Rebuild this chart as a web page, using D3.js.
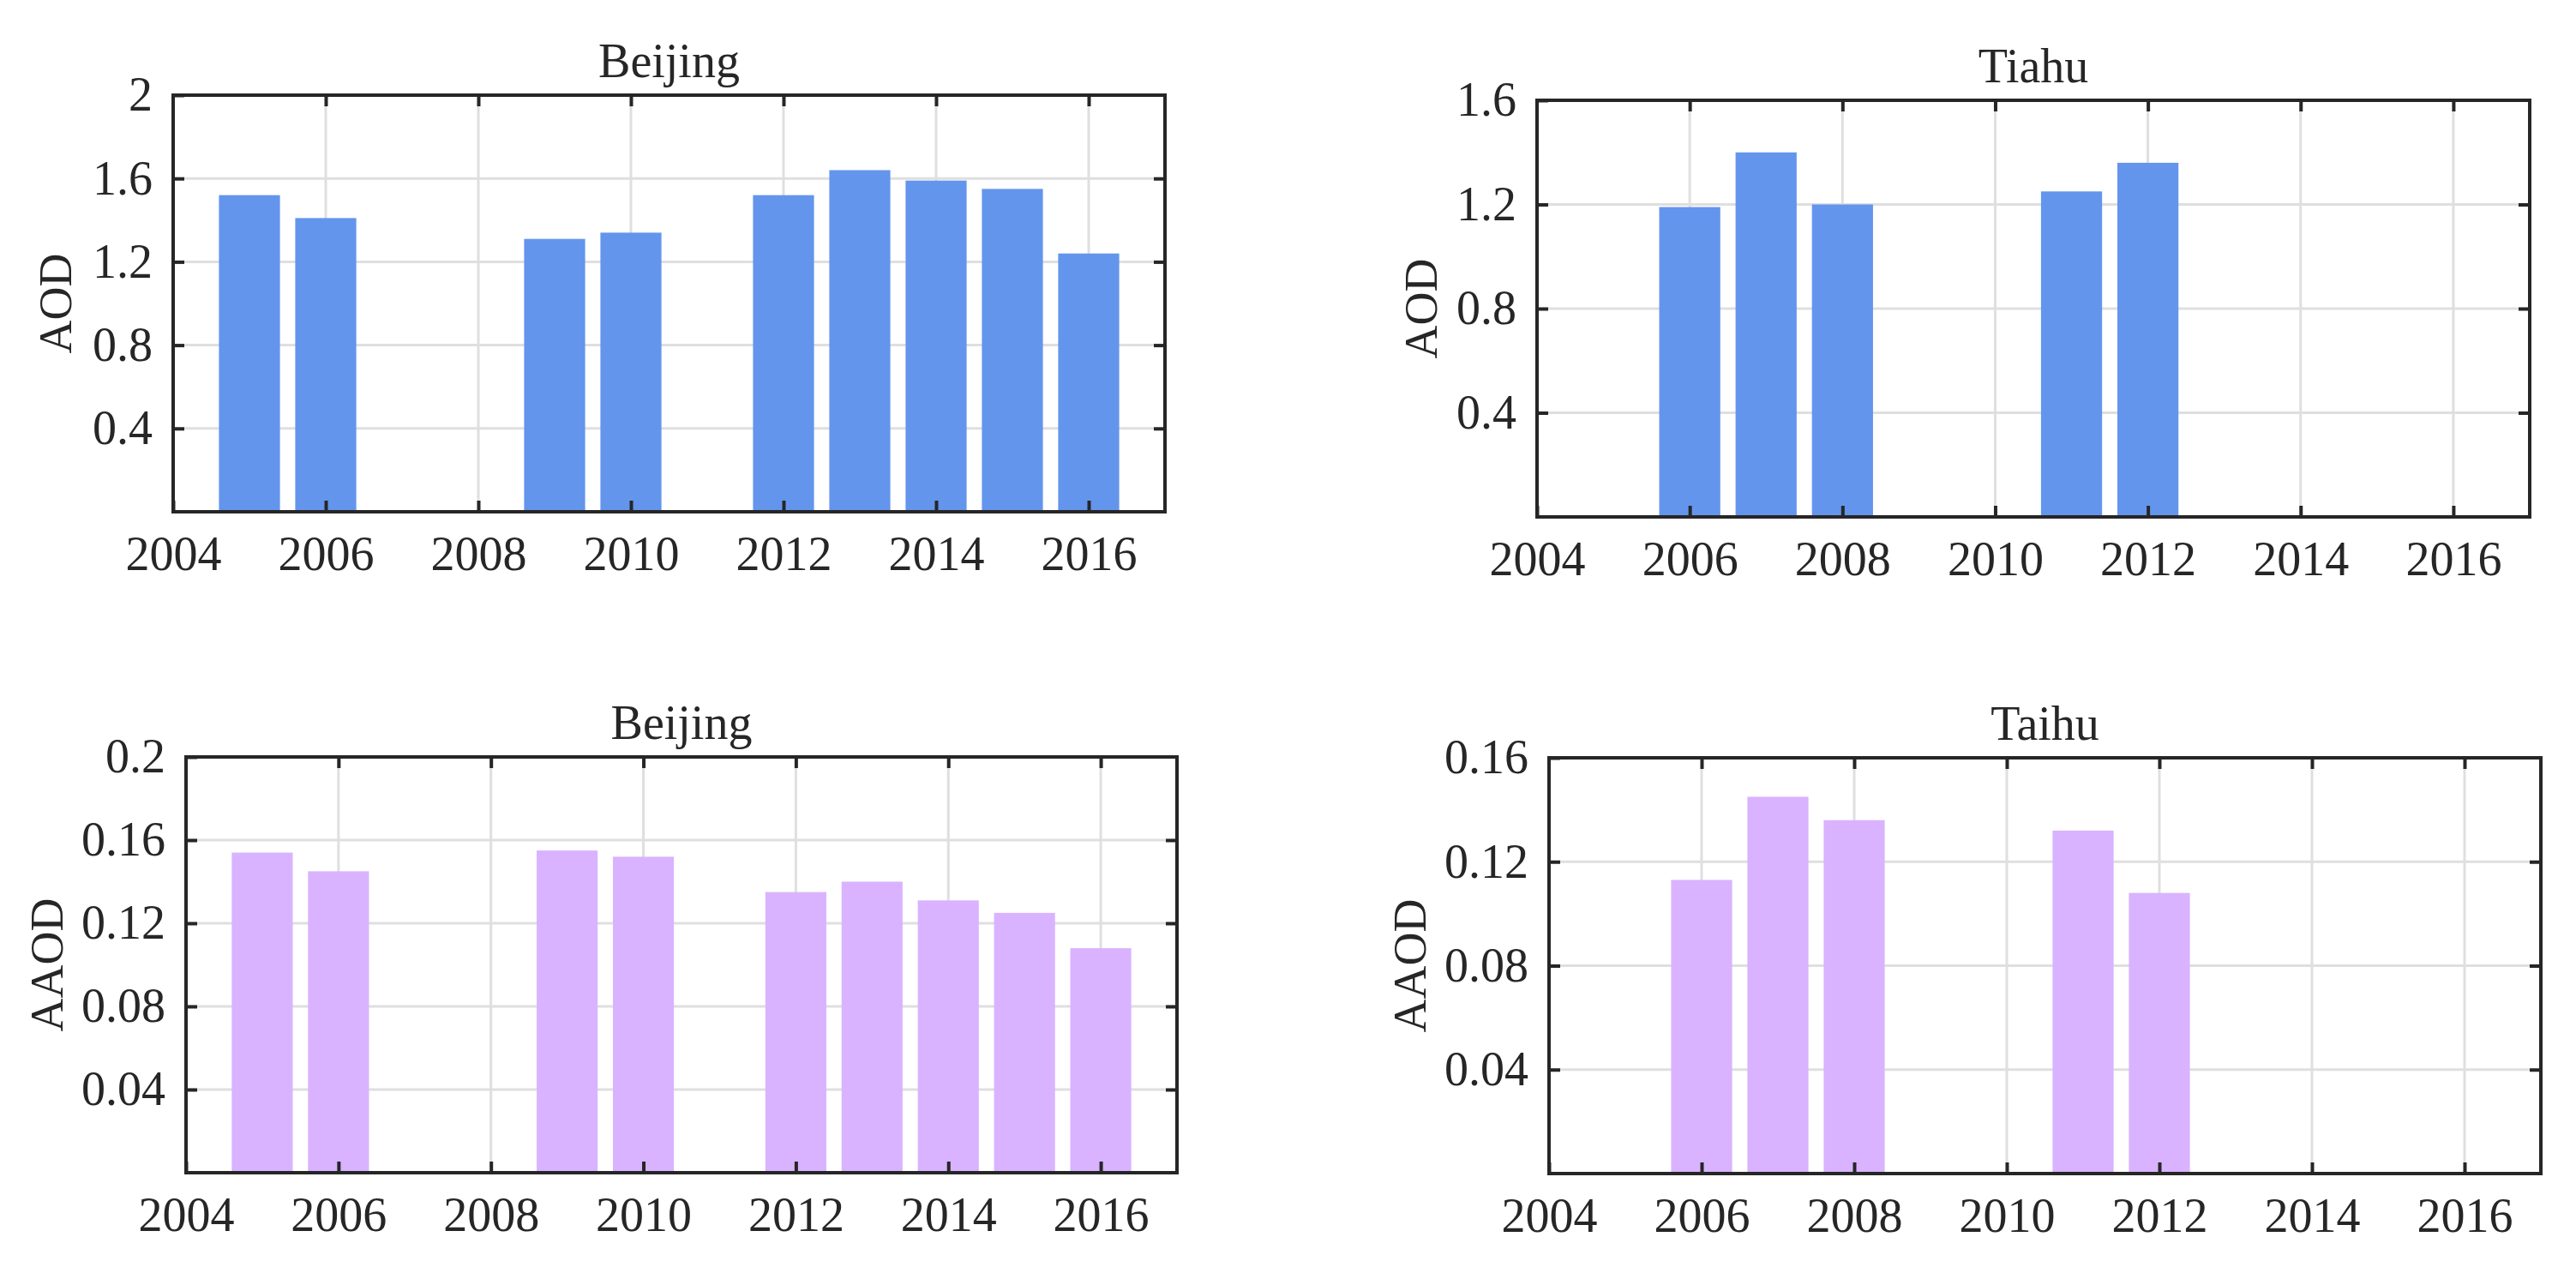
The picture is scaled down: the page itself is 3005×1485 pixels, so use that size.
<!DOCTYPE html>
<html>
<head>
<meta charset="utf-8">
<script src="https://cdn.jsdelivr.net/npm/d3@7/dist/d3.min.js"></script>
<style>
  html, body { margin: 0; padding: 0; background: #fff; }
  svg { display: block; }
  text { font-family: "Liberation Serif", "Times New Roman", serif; fill: #262626; }
</style>
</head>
<body>
<svg id="chart" width="3005" height="1485"></svg>
<script>
// ---- data ----
const yearsBeijing = [2005, 2006, 2009, 2010, 2012, 2013, 2014, 2015, 2016];
const aodBeijing   = [1.52, 1.41, 1.31, 1.34, 1.52, 1.64, 1.59, 1.55, 1.24];
const aaodBeijing  = [0.154, 0.145, 0.155, 0.152, 0.135, 0.140, 0.131, 0.125, 0.108];

const yearsTaihu = [2006, 2007, 2008, 2011, 2012];
const aodTaihu   = [1.19, 1.40, 1.20, 1.25, 1.36];
const aaodTaihu  = [0.113, 0.145, 0.136, 0.132, 0.108];

const xTicks = [2004, 2006, 2008, 2010, 2012, 2014, 2016];
const xDomain = [2004, 2017];
const yTicksAOD1  = [0.4, 0.8, 1.2, 1.6, 2];
const yTicksAOD2  = [0.4, 0.8, 1.2, 1.6];
const yTicksAAOD1 = [0.04, 0.08, 0.12, 0.16, 0.2];
const yTicksAAOD2 = [0.04, 0.08, 0.12, 0.16];

const titles = ["Beijing", "Tiahu", "Beijing", "Taihu"];
const yLabels = ["AOD", "AOD", "AAOD", "AAOD"];

const BLUE = "#6495ED";
const PURPLE = "#D9B3FF";

const panels = [
  { box: [202, 111, 1359, 597], years: yearsBeijing, vals: aodBeijing, ymax: 2, ticks: yTicksAOD1, fmt: d => String(d), title: titles[0], ylab: yLabels[0], labX: 83, color: BLUE },
  { box: [1793, 117, 2951, 603], years: yearsTaihu, vals: aodTaihu, ymax: 1.6, ticks: yTicksAOD2, fmt: d => String(d), title: titles[1], ylab: yLabels[1], labX: 1676, color: BLUE },
  { box: [217, 883, 1373, 1368], years: yearsBeijing, vals: aaodBeijing, ymax: 0.2, ticks: yTicksAAOD1, fmt: d => String(d), title: titles[2], ylab: yLabels[2], labX: 73, color: PURPLE },
  { box: [1807, 884, 2964, 1369], years: yearsTaihu, vals: aaodTaihu, ymax: 0.16, ticks: yTicksAAOD2, fmt: d => String(d), title: titles[3], ylab: yLabels[3], labX: 1663, color: PURPLE }
];

const svg = d3.select("#chart");
const FS = 56;
const AXC = "#262626";
const GRIDC = "#dfdfdf";
const TICK = 13;

panels.forEach(p => {
  const [x0, y0, x1, y1] = p.box;
  const x = d3.scaleLinear().domain(xDomain).range([x0, x1]);
  const y = d3.scaleLinear().domain([0, p.ymax]).range([y1, y0]);
  const g = svg.append("g");

  // grid
  g.append("g").selectAll("line.vg").data(xTicks.filter(t => t > xDomain[0])).join("line")
    .attr("x1", d => x(d)).attr("x2", d => x(d)).attr("y1", y0).attr("y2", y1)
    .attr("stroke", GRIDC).attr("stroke-width", 3);
  g.append("g").selectAll("line.hg").data(p.ticks.filter(t => t < p.ymax)).join("line")
    .attr("x1", x0).attr("x2", x1).attr("y1", d => y(d)).attr("y2", d => y(d))
    .attr("stroke", GRIDC).attr("stroke-width", 3);

  // bars
  const data = p.years.map((yr, i) => ({ yr, v: p.vals[i] }));
  g.append("g").selectAll("rect").data(data).join("rect")
    .attr("x", d => x(d.yr - 0.4))
    .attr("width", d => x(d.yr + 0.4) - x(d.yr - 0.4))
    .attr("y", d => y(d.v))
    .attr("height", d => y(0) - y(d.v))
    .attr("fill", p.color);

  // axes (ticks inward)
  const styleAxis = sel => {
    sel.select(".domain").remove();
    sel.selectAll(".tick line").attr("stroke", AXC).attr("stroke-width", 4);
    sel.selectAll(".tick text").attr("font-size", FS).attr("fill", AXC)
      .style("font-family", '"Liberation Serif", "Times New Roman", serif');
  };
  g.append("g").attr("transform", `translate(0,${y1})`)
    .call(d3.axisBottom(x).tickValues(xTicks).tickFormat(d3.format("d")).tickSize(-TICK).tickSizeOuter(0).tickPadding(28))
    .call(styleAxis);
  g.append("g").attr("transform", `translate(0,${y0})`)
    .call(d3.axisTop(x).tickValues(xTicks.filter(t => t > xDomain[0])).tickFormat("").tickSize(-TICK).tickSizeOuter(0))
    .call(styleAxis);
  g.append("g").attr("transform", `translate(${x0},0)`)
    .call(d3.axisLeft(y).tickValues(p.ticks).tickFormat(p.fmt).tickSize(-TICK).tickSizeOuter(0).tickPadding(24))
    .call(styleAxis);
  g.append("g").attr("transform", `translate(${x1},0)`)
    .call(d3.axisRight(y).tickValues(p.ticks.filter(t => t < p.ymax)).tickFormat("").tickSize(-TICK).tickSizeOuter(0))
    .call(styleAxis);

  // box
  g.append("rect").attr("x", x0).attr("y", y0).attr("width", x1 - x0).attr("height", y1 - y0)
    .attr("fill", "none").attr("stroke", AXC).attr("stroke-width", 4);

  // title
  g.append("text").attr("x", (x0 + x1) / 2).attr("y", y0 - 21)
    .attr("text-anchor", "middle").attr("font-size", FS).text(p.title);

  // y label
  g.append("text")
    .attr("transform", `translate(${p.labX},${(y0 + y1) / 2}) rotate(-90)`)
    .attr("text-anchor", "middle").attr("font-size", 54).text(p.ylab);
});
</script>
</body>
</html>
